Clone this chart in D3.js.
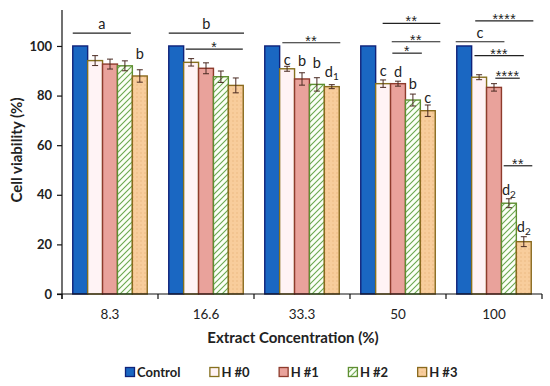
<!DOCTYPE html>
<html><head><meta charset="utf-8">
<script src="https://cdn.jsdelivr.net/npm/d3@7"></script>
<style>
html,body{margin:0;padding:0;background:#fff;}
svg{display:block;font-family:Lato,"Open Sans",sans-serif;}
</style></head>
<body><svg id="chart" width="550" height="386"></svg>
<script>
// ---- data ----
const categories = ["8.3", "16.6", "33.3", "50", "100"];
const seriesNames = ["Control", "H #0", "H #1", "H #2", "H #3"];
const control = [100, 100, 100, 100, 100];
const h0 = [94.1, 93.4, 90.8, 84.8, 87.4];
const h1 = [92.7, 91.0, 86.7, 84.8, 83.3];
const h2 = [92.0, 87.6, 84.5, 78.2, 36.6];
const h3 = [87.9, 84.1, 83.6, 73.9, 21.1];
const err0 = [2.0, 1.5, 1.0, 1.5, 1.0];
const err1 = [2.0, 2.2, 2.5, 1.0, 1.5];
const err2 = [2.0, 2.3, 2.7, 2.4, 1.8];
const err3 = [2.5, 3.0, 0.8, 2.3, 2.0];
const yTicks = [0, 20, 40, 60, 80, 100];
// significance brackets: category, from/to in bar units, value, label
const brackets = [
  {cat:"8.3", from:0, to:3.9, v:105.2, label:"a"},
  {cat:"16.6", from:0, to:5.05, v:105.2, label:"b"},
  {cat:"16.6", from:1.14, to:4.97, v:98.7, label:"*"},
  {cat:"33.3", from:1.18, to:5.07, v:101.3, label:"**"},
  {cat:"50", from:1.47, to:5.34, v:109.1, label:"**"},
  {cat:"50", from:2.08, to:5.34, v:101.7, label:"**"},
  {cat:"50", from:2.12, to:4.1, v:97.1, label:"*"},
  {cat:"100", from:1.24, to:5.14, v:110.1, label:"****"},
  {cat:"100", from:-0.07, to:3.2, v:101.7, label:"c"},
  {cat:"100", from:1.19, to:4.5, v:96.1, label:"***"},
  {cat:"100", from:2.59, to:4.23, v:87.0, label:"****"},
  {cat:"100", from:3.15, to:5.07, v:51.7, label:"**"}
];
// letters above bars: category, series index, baseline value, letter, subscript
const barLetters = [
  {cat:"8.3", s:4, v:94.6, t:"b", sub:""},
  {cat:"33.3", s:1, v:92.3, t:"c", sub:""},
  {cat:"33.3", s:2, v:92.1, t:"b", sub:""},
  {cat:"33.3", s:3, v:91.0, t:"b", sub:""},
  {cat:"33.3", s:4, v:87.6, t:"d", sub:"1"},
  {cat:"50", s:1, v:87.9, t:"c", sub:""},
  {cat:"50", s:2, v:87.6, t:"d", sub:""},
  {cat:"50", s:3, v:82.5, t:"b", sub:""},
  {cat:"50", s:4, v:77.1, t:"c", sub:""},
  {cat:"100", s:3, v:39.9, t:"d", sub:"2"},
  {cat:"100", s:4, v:25.1, t:"d", sub:"2"}
];

const values = [control, h0, h1, h2, h3];
const errs = [null, err0, err1, err2, err3];

const fills = ["#1a67c2", "#fff3f5", "#e9a29b", "url(#hatch)", "url(#dots)"];
const strokes = ["#10237a", "#86701e", "#8e3b2c", "#5f8f32", "#8a6a1e"];

const svg = d3.select("#chart");
const defs = svg.append("defs");
const hatch = defs.append("pattern").attr("id","hatch").attr("patternUnits","userSpaceOnUse")
  .attr("width",6).attr("height",6);
hatch.append("rect").attr("width",6).attr("height",6).attr("fill","#fbfff6");
hatch.append("path").attr("d","M0,6 L6,0 M-1,1 L1,-1 M5,7 L7,5")
  .attr("stroke","#6aa84f").attr("stroke-width",1.1);
const dots = defs.append("pattern").attr("id","dots").attr("patternUnits","userSpaceOnUse")
  .attr("width",4).attr("height",4);
dots.append("rect").attr("width",4).attr("height",4).attr("fill","#f8cd9c");
dots.append("circle").attr("cx",1).attr("cy",1).attr("r",0.7).attr("fill","#eab57c");

const x = d3.scaleBand().domain(categories).range([62, 542]).padding(0);
const xs = d3.scaleBand().domain(d3.range(5)).range([x.bandwidth()*0.112, x.bandwidth()*0.888]).padding(0);
const y = d3.scaleLinear().domain([0, 114.5]).range([294, 10]);
const pos = (cat, u) => x(cat) + xs.range()[0] + u * xs.bandwidth();

// bars
const g = svg.append("g");
categories.forEach((cat, ci) => {
  values.forEach((arr, si) => {
    g.append("rect")
      .attr("x", x(cat) + xs(si)).attr("y", y(arr[ci]))
      .attr("width", xs.bandwidth()).attr("height", y(0) - y(arr[ci]))
      .attr("fill", fills[si]).attr("stroke", strokes[si]).attr("stroke-width", 1.4);
  });
});
// error bars
categories.forEach((cat, ci) => {
  values.forEach((arr, si) => {
    if (!errs[si]) return;
    const cx = x(cat) + xs(si) + xs.bandwidth()/2;
    const lo = y(arr[ci] - errs[si][ci]), hi = y(arr[ci] + errs[si][ci]);
    const eg = g.append("g").attr("stroke","#4a2a22").attr("stroke-width",1);
    eg.append("line").attr("x1",cx).attr("x2",cx).attr("y1",lo).attr("y2",hi);
    eg.append("line").attr("x1",cx-3).attr("x2",cx+3).attr("y1",lo).attr("y2",lo);
    eg.append("line").attr("x1",cx-3).attr("x2",cx+3).attr("y1",hi).attr("y2",hi);
  });
});

// axes
const yAxis = d3.axisLeft(y).tickValues(yTicks).tickSize(5).tickPadding(5);
const ya = svg.append("g").attr("transform","translate(62,0)").call(yAxis);
ya.select(".domain").attr("d", `M0,${y(0)+5}V${y(114.5)}`).attr("stroke","#111").attr("stroke-width",1.2);
ya.selectAll(".tick line").attr("stroke","#111").attr("stroke-width",1.2);
ya.selectAll(".tick text").attr("font-size",13).attr("font-weight","bold").attr("fill","#222")
  .attr("font-family","Lato, sans-serif");

const xa = svg.append("g");
xa.append("line").attr("x1",57).attr("x2",542).attr("y1",y(0)).attr("y2",y(0))
  .attr("stroke","#111").attr("stroke-width",1.2);
const bounds = categories.map(c => x(c)).concat([x(categories[categories.length-1]) + x.bandwidth()]);
bounds.forEach(b => {
  xa.append("line").attr("x1",b).attr("x2",b).attr("y1",y(0)).attr("y2",y(0)+5)
    .attr("stroke","#111").attr("stroke-width",1.2);
});
categories.forEach(c => {
  xa.append("text").attr("x", x(c) + x.bandwidth()/2).attr("y", 319)
    .attr("text-anchor","middle").attr("font-size",13.5).attr("fill","#222").text(c);
});

// titles
svg.append("text").attr("x",293).attr("y",343).attr("text-anchor","middle")
  .attr("font-size",15).attr("font-weight","bold").attr("fill","#222").text("Extract Concentration (%)");
svg.append("text").attr("transform","translate(22,150) rotate(-90)").attr("text-anchor","middle")
  .attr("font-size",15).attr("font-weight","bold").attr("fill","#222").text("Cell viability (%)");

// brackets
brackets.forEach(b => {
  const x1 = pos(b.cat, b.from), x2 = pos(b.cat, b.to), yy = y(b.v);
  svg.append("line").attr("x1",x1).attr("x2",x2).attr("y1",yy).attr("y2",yy)
    .attr("stroke","#222").attr("stroke-width",1.2);
  const isStar = b.label.indexOf("*") >= 0;
  svg.append("text").attr("x",(x1+x2)/2).attr("y", isStar ? yy + 3 : yy - 4)
    .attr("text-anchor","middle").attr("font-size", isStar ? 14 : 14.5).attr("fill","#222")
    .attr("font-family", isStar ? "'Liberation Sans', Arial, sans-serif" : null)
    .attr("letter-spacing", isStar ? 0.5 : null)
    .text(b.label);
});
// bar letters
barLetters.forEach(l => {
  const cx = pos(l.cat, l.s + 0.5);
  const t = svg.append("text").attr("x", cx).attr("y", y(l.v)).attr("text-anchor","middle")
    .attr("font-size",14.5).attr("fill","#222");
  t.append("tspan").text(l.t);
  if (l.sub) t.append("tspan").attr("font-size",10).attr("dy",3).text(l.sub);
});

// legend
const lg = svg.append("g").attr("transform","translate(125,367)");
let lx = 0;
seriesNames.forEach((n, i) => {
  const it = lg.append("g").attr("transform",`translate(${lx},0)`);
  it.append("rect").attr("x",0.5).attr("y",0.5).attr("width",9).attr("height",9)
    .attr("fill",fills[i]).attr("stroke",strokes[i]).attr("stroke-width",1.3);
  const tx = it.append("text").attr("x",12).attr("y",9.5).attr("font-size",13)
    .attr("font-weight","bold").attr("fill","#222").text(n);
  const w = tx.node().getComputedTextLength();
  lx += 12 + w + 29;
});
</script></body></html>
